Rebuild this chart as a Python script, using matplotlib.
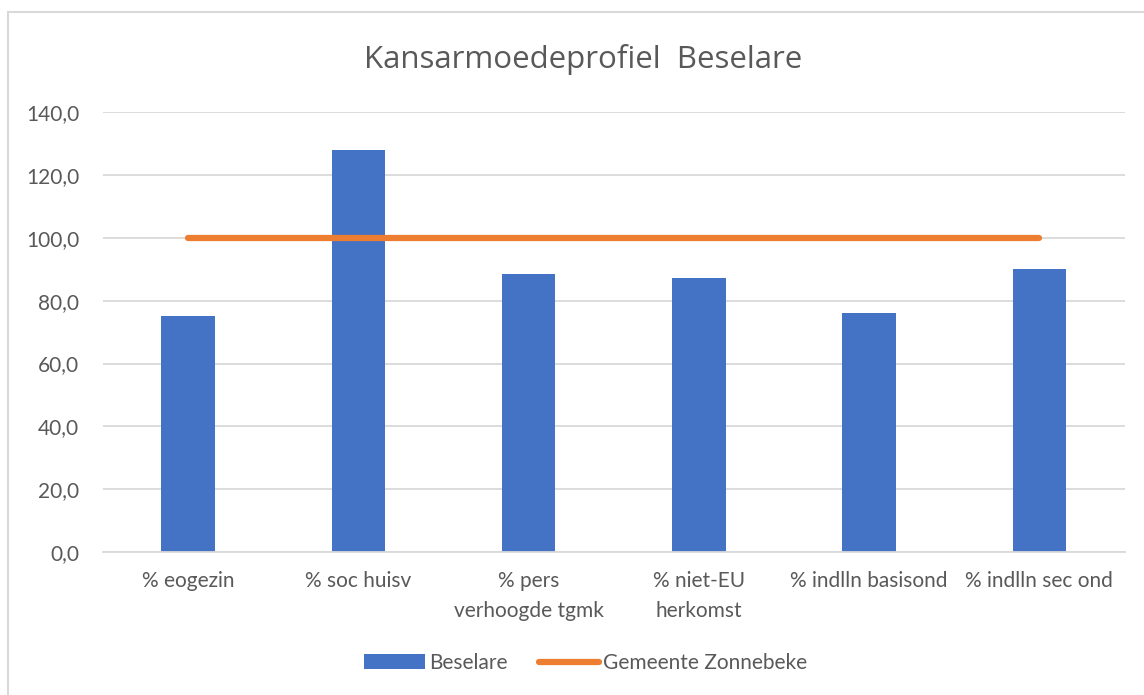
import matplotlib
matplotlib.use("Agg")
from matplotlib import pyplot as plt
from matplotlib.patches import Rectangle
from matplotlib.ticker import FuncFormatter
import numpy as np

categories = ["% eogezin", "% soc huisv", "% pers\nverhoogde tgmk",
              "% niet-EU\nherkomst", "% indlln basisond", "% indlln sec ond"]
beselare = [75.0, 128.1, 88.6, 87.1, 76.2, 90.0]
zonnebeke = [100, 100, 100, 100, 100, 100]

blue = "#4472C4"
orange = "#ED7D31"
grey_txt = "#595959"
grid_col = "#D9D9D9"

plt.rcParams['font.family'] = ['Lato', 'DejaVu Sans']

fig = plt.figure(figsize=(11.44, 6.95), dpi=100)
ax = fig.add_axes([0.090, 0.2058, 0.893, 0.6326])

x = np.arange(len(categories))
bars = ax.bar(x, beselare, width=0.315, color=blue, label="Beselare", zorder=2)
line, = ax.plot(x, zonnebeke, color=orange, lw=4.5, solid_capstyle="round",
                label="Gemeente Zonnebeke", zorder=3)

ax.set_xlim(-0.5, len(categories) - 0.5)
ax.set_ylim(0, 140)
ax.set_yticks(np.arange(0, 141, 20))
ax.yaxis.set_major_formatter(FuncFormatter(lambda v, p: f"{v:.1f}".replace(".", ",")))
ax.set_xticks(x)
ax.set_xticklabels(categories, fontsize=15, color=grey_txt, linespacing=1.6)
ax.tick_params(axis="y", length=0, labelsize=15, labelcolor=grey_txt, pad=17)
ax.tick_params(axis="x", length=0, pad=14)
ax.grid(axis="y", color=grid_col, lw=1.3, zorder=0)
ax.set_axisbelow(True)
for s in ["top", "right", "left"]:
    ax.spines[s].set_visible(False)
ax.spines["bottom"].set_color(grid_col)
ax.spines["bottom"].set_linewidth(1.3)

fig.text(0.51, 0.915, "Kansarmoedeprofiel  Beselare", ha="center", va="center",
         fontsize=22.5, color=grey_txt, family=["Open Sans", "DejaVu Sans"])

fig.legend([bars, line], ["Beselare", "Gemeente Zonnebeke"],
           loc="center", bbox_to_anchor=(0.512, 0.046), ncol=2, frameon=False,
           fontsize=15, labelcolor=grey_txt, handlelength=2.9, handleheight=0.7,
           columnspacing=1.5, handletextpad=0.2)

fig.patches.append(Rectangle((8 / 1144, -0.1), 1.2, 1 - 12 / 695 + 0.1,
                             transform=fig.transFigure, fill=False,
                             edgecolor=grid_col, lw=1.5))

fig.savefig("out.png", dpi=100)
